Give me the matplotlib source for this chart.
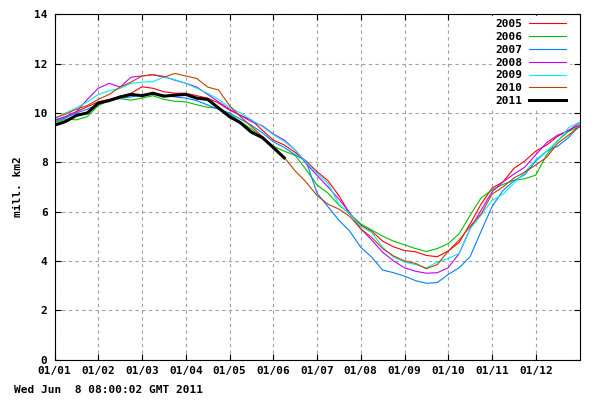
import matplotlib
matplotlib.use("Agg")
import matplotlib.pyplot as plt

# x in months since 01/01, sampled every quarter month
months = [k / 4 for k in range(49)]

ext_2005 = [9.7, 9.85, 10.05, 10.25, 10.45, 10.55, 10.66, 10.8, 11.06, 11.0, 10.86, 10.8,
            10.8, 10.7, 10.6, 10.4, 10.12, 9.9, 9.71, 9.3, 8.9, 8.7, 8.4, 8.05,
            7.62, 7.25, 6.65, 5.9, 5.45, 5.2, 4.8, 4.57, 4.42, 4.37, 4.22, 4.17,
            4.4, 4.75, 5.5, 6.3, 6.95, 7.2, 7.75, 8.05, 8.45, 8.7, 9.05, 9.3, 9.5]
ext_2006 = [9.6, 9.75, 9.72, 9.85, 10.3, 10.5, 10.58, 10.52, 10.6, 10.7, 10.55, 10.47,
            10.45, 10.33, 10.23, 10.18, 9.95, 9.65, 9.35, 9.0, 8.65, 8.45, 8.28, 7.7,
            7.08, 6.75, 6.27, 5.9, 5.5, 5.25, 5.0, 4.8, 4.65, 4.5, 4.38, 4.5,
            4.7, 5.1, 5.85, 6.55, 6.88, 7.1, 7.27, 7.33, 7.48, 8.3, 8.88, 9.25, 9.44]
ext_2007 = [9.65, 9.8, 10.0, 10.15, 10.35, 10.5, 10.6, 10.65, 10.75, 10.75, 10.72, 10.65,
            10.6, 10.5, 10.32, 10.15, 10.0, 9.75, 9.5, 9.2, 8.83, 8.6, 8.3, 8.05,
            6.75, 6.2, 5.65, 5.2, 4.55, 4.15, 3.63, 3.52, 3.38, 3.2, 3.09, 3.12,
            3.45, 3.72, 4.17, 5.2, 6.2, 6.85, 7.25, 7.5, 8.05, 8.45, 8.65, 9.0, 9.5]
ext_2008 = [9.7, 9.85, 10.05, 10.55, 11.0, 11.2, 11.05, 11.45, 11.5, 11.55, 11.48, 11.33,
            11.2, 11.05, 10.75, 10.45, 10.15, 9.9, 9.65, 9.48, 9.15, 8.9, 8.5, 7.95,
            7.47, 7.0, 6.5, 5.95, 5.3, 4.85, 4.35, 4.0, 3.72, 3.58, 3.5, 3.52,
            3.72, 4.3, 5.3, 6.05, 6.8, 7.2, 7.52, 7.8, 8.3, 8.8, 9.1, 9.28, 9.6]
ext_2009 = [9.75, 10.0, 10.2, 10.45, 10.75, 10.9, 11.0, 11.2, 11.25, 11.27, 11.45, 11.35,
            11.2, 11.0, 10.8, 10.55, 10.22, 10.0, 9.72, 9.45, 9.12, 8.85, 8.5, 8.0,
            7.55, 7.15, 6.3, 5.9, 5.4, 5.15, 4.55, 4.15, 3.95, 3.85, 3.72, 3.95,
            4.1, 4.3, 5.3, 5.85, 6.45, 6.7, 7.15, 7.6, 8.1, 8.45, 8.85, 9.4, 9.62]
ext_2010 = [9.8, 9.95, 10.15, 10.3, 10.55, 10.75, 11.05, 11.25, 11.5, 11.55, 11.45, 11.6,
            11.5, 11.4, 11.05, 10.93, 10.3, 9.85, 9.45, 9.05, 8.55, 8.2, 7.65, 7.2,
            6.65, 6.3, 6.1, 5.8, 5.3, 4.95, 4.5, 4.2, 4.0, 3.9, 3.68, 3.85,
            4.4, 4.85, 5.4, 5.9, 6.7, 7.0, 7.36, 7.6, 7.89, 8.2, 8.77, 9.1, 9.44]

# 2011 runs only up to early June
ext_2011 = [9.5, 9.65, 9.9, 10.0, 10.4, 10.5, 10.65, 10.75, 10.7, 10.8, 10.68, 10.72,
            10.75, 10.6, 10.55, 10.2, 9.85, 9.6, 9.22, 9.0, 8.6, 8.18]

tick_labels = ["01/01", "01/02", "01/03", "01/04", "01/05", "01/06",
               "01/07", "01/08", "01/09", "01/10", "01/11", "01/12"]

series = [
    ("2005", ext_2005, "#ff0000"),
    ("2006", ext_2006, "#00c000"),
    ("2007", ext_2007, "#0080ff"),
    ("2008", ext_2008, "#c000ff"),
    ("2009", ext_2009, "#00eeee"),
    ("2010", ext_2010, "#c04000"),
]

plt.rcParams["font.family"] = "DejaVu Sans Mono"
plt.rcParams["font.weight"] = "bold"
plt.rcParams["font.size"] = 8

fig = plt.figure(figsize=(6, 4), dpi=100)
ax = fig.add_axes([54.5 / 600, 40.5 / 400, 525 / 600, 345.2 / 400])

for name, vals, col in series:
    ax.plot(months, vals, color=col, lw=0.8, label=name)
ax.plot(months[:len(ext_2011)], ext_2011, color="black", lw=2.2, label="2011")

ax.set_xlim(0, 12)
ax.set_ylim(0, 14)
ax.set_xticks(range(12))
ax.set_xticklabels(tick_labels, fontweight="bold")
ax.set_yticks(range(0, 15, 2))
plt.setp(ax.get_yticklabels(), fontweight="bold")
ax.tick_params(direction="in", length=4, width=0.8, top=True, right=True, pad=5)
ax.grid(True, color="#a0a0a0", ls=(0, (3, 3)), lw=0.8)
for s in ax.spines.values():
    s.set_linewidth(0.8)

ax.set_ylabel("mill. km2", labelpad=8, fontweight="bold")

leg = ax.legend(loc="upper right", bbox_to_anchor=(1 - 9 / 525, 1), markerfirst=False,
                handlelength=3.3, handletextpad=0.6, labelspacing=0.25, borderpad=0.3,
                borderaxespad=0.15, fancybox=False, framealpha=1,
                prop={"weight": "bold"})
leg.get_frame().set_edgecolor("white")

fig.text(14 / 600, 1 - 390 / 400, "Wed Jun  8 08:00:02 GMT 2011", va="center", ha="left",
         fontweight="bold")

fig.savefig("out.png", dpi=100)
